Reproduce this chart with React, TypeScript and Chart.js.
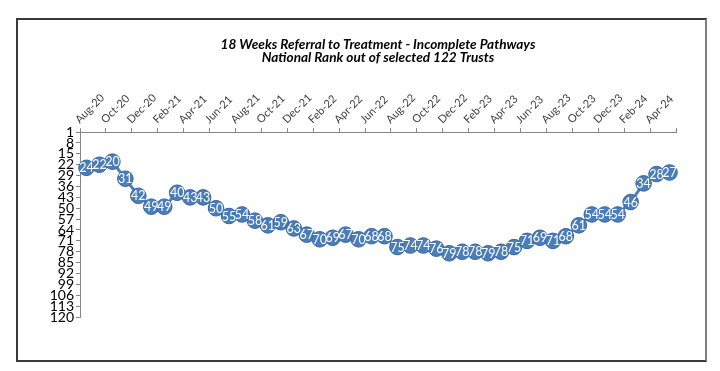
import React, { useEffect, useRef } from "react";
import { Chart, registerables } from "chart.js";

Chart.register(...registerables);

const categories = [
  "Aug-20", "Sep-20", "Oct-20", "Nov-20", "Dec-20", "Jan-21", "Feb-21", "Mar-21",
  "Apr-21", "May-21", "Jun-21", "Jul-21", "Aug-21", "Sep-21", "Oct-21", "Nov-21",
  "Dec-21", "Jan-22", "Feb-22", "Mar-22", "Apr-22", "May-22", "Jun-22", "Jul-22",
  "Aug-22", "Sep-22", "Oct-22", "Nov-22", "Dec-22", "Jan-23", "Feb-23", "Mar-23",
  "Apr-23", "May-23", "Jun-23", "Jul-23", "Aug-23", "Sep-23", "Oct-23", "Nov-23",
  "Dec-23", "Jan-24", "Feb-24", "Mar-24", "Apr-24", "May-24",
];

const rankValues = [
  24, 22, 20, 31, 42, 49, 49, 40, 43, 43, 50, 55, 54, 58, 61, 59,
  63, 67, 70, 69, 67, 70, 68, 68, 75, 74, 74, 76, 79, 78, 78, 79,
  78, 75, 71, 69, 71, 68, 61, 54, 54, 54, 46, 34, 28, 27,
];

const titleLines = [
  "18 Weeks Referral to Treatment - Incomplete Pathways",
  "National Rank out of selected 122 Trusts",
];

const yMin = 1;
const yMax = 120;
const yStep = 7;

const FONT = "Lato, 'Open Sans', 'DejaVu Sans', sans-serif";

const pointLabelPlugin = {
  id: "pointLabels",
  afterDatasetsDraw(chart: any) {
    const ctx = chart.ctx;
    const meta = chart.getDatasetMeta(0);
    const data = chart.data.datasets[0].data;
    ctx.save();
    ctx.fillStyle = "#ffffff";
    ctx.font = `12.5px ${FONT}`;
    ctx.textAlign = "center";
    ctx.textBaseline = "middle";
    meta.data.forEach((el: any, i: number) => {
      ctx.fillText(String(data[i]), el.x, el.y + 0.5);
    });
    ctx.restore();
  },
};

export default function App() {
  const canvasRef = useRef<HTMLCanvasElement | null>(null);

  useEffect(() => {
    document.body.style.margin = "0";
    const canvas = canvasRef.current;
    if (!canvas) return;
    const chart = new Chart(canvas, {
      type: "line",
      data: {
        labels: categories,
        datasets: [
          {
            data: rankValues,
            borderColor: "#4F81BD",
            borderWidth: 3,
            backgroundColor: "#4F81BD",
            pointBackgroundColor: "#4A7EBB",
            pointBorderColor: "#3A67A0",
            pointBorderWidth: 1,
            pointRadius: 7.8,
            tension: 0,
          },
        ],
      },
      options: {
        animation: false,
        responsive: false,
        devicePixelRatio: 1,
        layout: { padding: { left: 0, right: 44, top: 38, bottom: 54 } },
        plugins: {
          legend: { display: false },
          tooltip: { enabled: false },
          title: {
            display: true,
            text: titleLines,
            fullSize: false,
            color: "#000000",
            font: { family: FONT, size: 13.6, weight: "bold", style: "italic", lineHeight: 0.96 },
            padding: { top: 0, bottom: 0 },
          },
        },
        scales: {
          x: {
            type: "category",
            position: "top",
            offset: true,
            grid: {
              offset: true,
              drawOnChartArea: false,
              drawTicks: true,
              tickLength: 4,
              tickColor: (c: any) =>
                c.index === undefined || c.index % 2 === 0 ? "#868686" : "rgba(0,0,0,0)",
            },
            border: { display: true, color: "#868686", width: 1 },
            ticks: {
              autoSkip: false,
              minRotation: 45,
              maxRotation: 45,
              padding: 2,
              color: "#404040",
              font: { family: FONT, size: 11 },
              callback: (_v: any, index: number) => (index % 2 === 0 ? categories[index] : ""),
            },
            afterFit: (scale: any) => {
              scale.height = 68;
              scale.paddingLeft = 0;
              scale.paddingRight = 0;
              scale.paddingTop = 0;
              scale.paddingBottom = 0;
            },
          },
          y: {
            type: "linear",
            reverse: true,
            min: yMin,
            max: yMax,
            grid: {
              drawOnChartArea: false,
              drawTicks: true,
              tickLength: 4,
              tickColor: "#868686",
            },
            border: { display: true, color: "#868686", width: 1 },
            ticks: {
              stepSize: yStep,
              autoSkip: false,
              padding: 2,
              color: "#000000",
              font: { family: FONT, size: 14, lineHeight: 1.0 },
            },
            afterFit: (scale: any) => {
              scale.width = 80;
              scale.paddingTop = 0;
              scale.paddingBottom = 0;
            },
          },
        },
      },
      plugins: [pointLabelPlugin],
    });
    return () => chart.destroy();
  }, []);

  return (
    <div style={{ position: "relative", width: 720, height: 371, background: "#ffffff" }}>
      <div
        style={{
          position: "absolute",
          left: 16,
          top: 18,
          width: 691,
          height: 344,
          boxSizing: "border-box",
          borderTop: "2px solid #3a3a3a",
          borderLeft: "2px solid #3a3a3a",
          borderBottom: "2px solid #3a3a3a",
          borderRight: "2px solid #7f7f7f",
        }}
      />
      <canvas
        ref={canvasRef}
        width={720}
        height={371}
        style={{ position: "absolute", left: 0, top: 0, width: 720, height: 371 }}
      />
    </div>
  );
}
